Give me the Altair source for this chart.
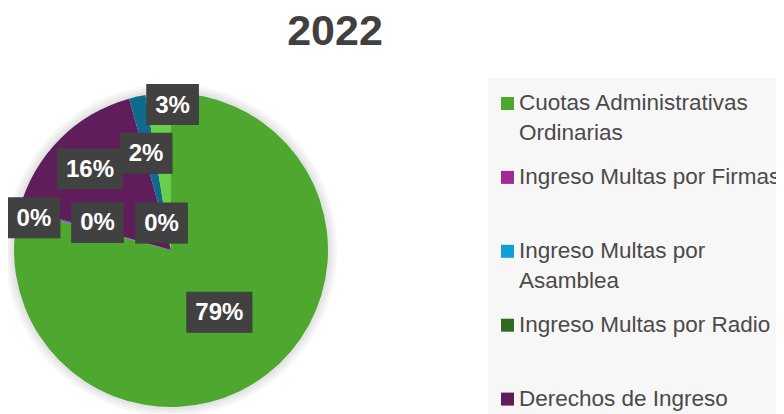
import math
import altair as alt
import pandas as pd

# ---------------- data ----------------
TITLE = "2022"
CATEGORIES = [
    "Cuotas Administrativas Ordinarias",
    "Ingreso Multas por Firmas",
    "Ingreso Multas por Asamblea",
    "Ingreso Multas por Radio",
    "Derechos de Ingreso",
    "Ingresos Financieros",
    "Otros Ingresos",
]
LEGEND_LABELS = [
    "Cuotas Administrativas\nOrdinarias",
    "Ingreso Multas por Firmas",
    "Ingreso Multas por\nAsamblea",
    "Ingreso Multas por Radio",
    "Derechos de Ingreso",
    "Ingresos Financieros",
    "Otros Ingresos",
]
VALUES = [79.0, 0.1, 0.1, 0.1, 16.4, 1.7, 2.6]
COLORS = ["#4EA72E", "#A02B93", "#0F9ED5", "#2E6B1F", "#5F1E5B", "#0F6A8C", "#69CF48"]

# ---------------- layout / style ----------------
W, H = 768, 406
CX, CY, R = 163, 242, 157
LABEL_R = [78.8, 140.8, 78.5, 28.6, 114.6, 100.0, 145.5]      # label distance from centre
LABEL_DTHETA = [0, -1.3, 5.6, 55.3, 0, -2.0, 5.3]              # best-fit nudge (degrees)
LABEL_FS = 24
BOX_H = 41
CHAR_W = {"%": 0.889}
TEXT_DARK = "#404040"

total = sum(VALUES)
rows = []
cum = 0.0
for i, (c, v) in enumerate(zip(CATEGORIES, VALUES)):
    a0 = cum / total * 360
    cum += v
    a1 = cum / total * 360
    ang = math.radians((a0 + a1) / 2 + LABEL_DTHETA[i])
    lx = CX + LABEL_R[i] * math.sin(ang)
    ly = CY - LABEL_R[i] * math.cos(ang)
    txt = f"{int(v / total * 100 + 0.5)}%"
    tw = sum(CHAR_W.get(ch, 0.556) for ch in txt) * LABEL_FS
    bw = tw + 18
    rows.append(dict(category=c, value=v, idx=i, legend=LEGEND_LABELS[i], label=txt,
                     lx=lx, ly=ly, bx0=lx - bw / 2, bx1=lx + bw / 2,
                     by0=ly - BOX_H / 2, by1=ly + BOX_H / 2))
df = pd.DataFrame(rows)
one = pd.DataFrame({"t": [TITLE]})

color_scale = alt.Scale(domain=CATEGORIES, range=COLORS)

# soft halo around the pie
halo = [
    alt.Chart(one).mark_arc(theta=0, theta2=2 * math.pi, outerRadius=R + k, color="#000000", opacity=0.035)
    .encode(x=alt.value(CX), y=alt.value(CY))
    for k in (9, 6, 3)
]

pie = alt.Chart(df).mark_arc(outerRadius=R).encode(
    theta=alt.Theta("value:Q", stack=True),
    color=alt.Color("category:N", scale=color_scale, legend=None),
    order=alt.Order("idx:Q"),
    x=alt.value(CX),
    y=alt.value(CY),
)

shadow1 = alt.Chart(df).mark_rect(color="#000000", opacity=0.18, xOffset=3, yOffset=4).encode(
    x=alt.X("bx0:Q", scale=None), x2="bx1:Q",
    y=alt.Y("by0:Q", scale=None), y2="by1:Q",
)
shadow2 = alt.Chart(df).mark_rect(color="#000000", opacity=0.10, xOffset=5, yOffset=6).encode(
    x=alt.X("bx0:Q", scale=None), x2="bx1:Q",
    y=alt.Y("by0:Q", scale=None), y2="by1:Q",
)
boxes = alt.Chart(df).mark_rect(color="#414141").encode(
    x=alt.X("bx0:Q", scale=None), x2="bx1:Q",
    y=alt.Y("by0:Q", scale=None), y2="by1:Q",
    order=alt.Order("idx:Q"),
)
labels = alt.Chart(df).mark_text(
    font="Liberation Sans", fontWeight="bold", fontSize=LABEL_FS, color="white",
    align="center", baseline="middle", dy=1,
).encode(
    x=alt.X("lx:Q", scale=None),
    y=alt.Y("ly:Q", scale=None),
    text="label:N",
)

title = alt.Chart(one).mark_text(
    font="Liberation Sans", fontWeight="bold", fontSize=43, color=TEXT_DARK,
    align="center", baseline="alphabetic",
).encode(x=alt.value(327), y=alt.value(37), text="t:N")

legend_bg = alt.Chart(one).mark_rect(color="#F7F7F7").encode(
    x=alt.value(480), x2=alt.value(W), y=alt.value(70), y2=alt.value(H)
)
leg_y = alt.Y("idx:Q", scale=alt.Scale(domain=[0, 6], range=[95.5, 95.5 + 6 * 73.9], nice=False, zero=False), axis=None)
legend_sym = alt.Chart(df).mark_square(size=169, filled=True, opacity=1, strokeWidth=0, clip=True).encode(
    x=alt.value(499.5), y=leg_y,
    color=alt.Color("category:N", scale=color_scale, legend=None),
)
legend_txt = alt.Chart(df).mark_text(
    font="Liberation Sans", fontSize=22.5, color="#4A4A4A", align="left", baseline="alphabetic",
    dy=6.5, lineBreak="\n", lineHeight=30,
).encode(x=alt.value(511), y=leg_y, text="legend:N")

chart = alt.layer(
    *halo, pie, shadow2, shadow1, boxes, labels, title, legend_bg, legend_sym, legend_txt
).resolve_scale(x="independent", y="independent").properties(
    width=W, height=H, padding=0, autosize=alt.AutoSizeParams(type="none"), background="white"
).configure_view(stroke=None)

chart.save("out.html", embed_options={"renderer": "svg", "actions": False})
